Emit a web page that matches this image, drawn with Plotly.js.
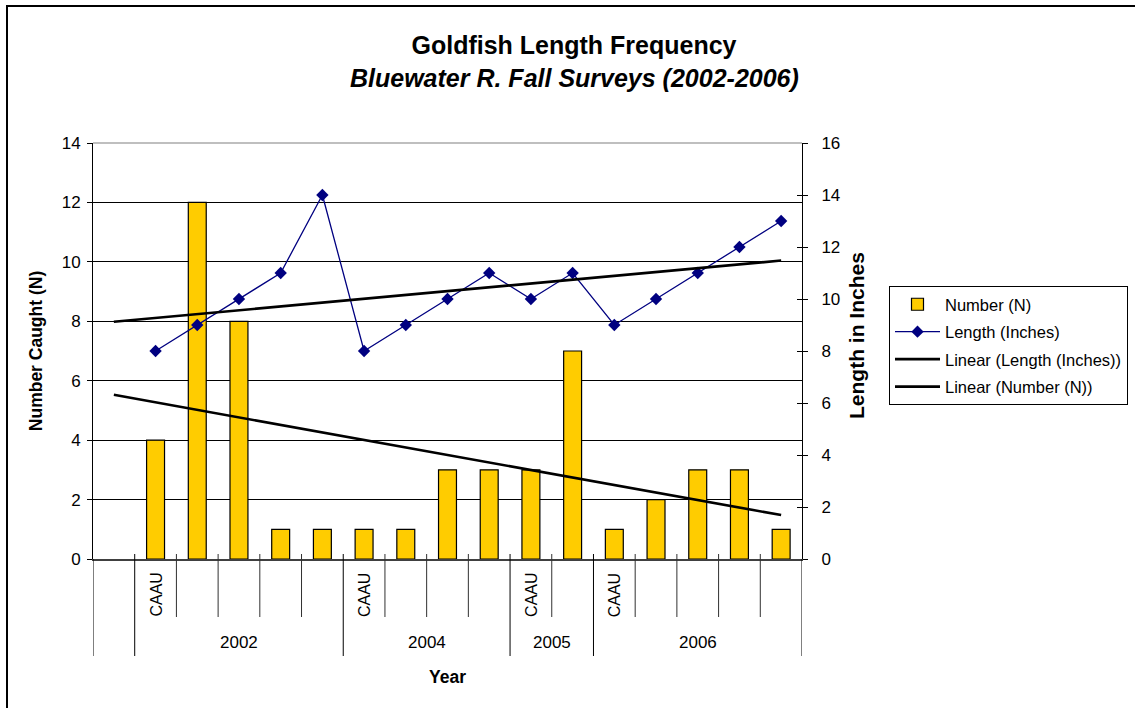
<!DOCTYPE html>
<html>
<head>
<meta charset="utf-8">
<script src="https://cdn.plot.ly/plotly-3.0.1.min.js"></script>
<style>html,body{margin:0;padding:0;background:#fff;}#chart{width:1135px;height:708px;}</style>
</head>
<body>
<div id="chart"></div>
<script>
// ---- data ----
var innerLabels = ['', 'CAAU', '', '', '', '', 'CAAU', '', '', '', 'CAAU', '', 'CAAU', '', '', '', ''];
var groupLabels = ['', '2002', '2004', '2005', '2006'];
var groupSizes  = [1, 5, 4, 2, 5];
var numberCaught = [null, 4, 12, 8, 1, 1, 1, 1, 3, 3, 3, 7, 1, 2, 3, 3, 1];
var lengthInches = [null, 8, 9, 10, 11, 14, 8, 9, 10, 11, 10, 11, 9, 10, 11, 12, 13];
var leftTicks  = [0, 2, 4, 6, 8, 10, 12, 14];
var rightTicks = [0, 2, 4, 6, 8, 10, 12, 14, 16];

// ---- layout helpers ----
var W = 1135, H = 708, L = 93, R = 802, T = 143, B = 559;
function px(xp){ return (xp - L) / (R - L); }
function py(yp){ return (B - yp) / (B - T); }
var FONT = '"Liberation Sans", Arial, sans-serif';

var xIdx = innerLabels.map(function(_, i){ return i + 1; });

// linear trend (least squares on category index, like the spreadsheet trendline)
function trend(vals){
  var xs = [], ys = [];
  vals.forEach(function(v, i){ if (v !== null) { xs.push(i + 1); ys.push(v); } });
  var n = xs.length, mx = 0, my = 0;
  for (var i = 0; i < n; i++){ mx += xs[i]; my += ys[i]; }
  mx /= n; my /= n;
  var sxy = 0, sxx = 0;
  for (var j = 0; j < n; j++){ sxy += (xs[j]-mx)*(ys[j]-my); sxx += (xs[j]-mx)*(xs[j]-mx); }
  var b = sxy / sxx, a = my - b * mx;
  var x0 = 1, x1 = vals.length;
  return { x: [x0, x1], y: [a + b * x0, a + b * x1] };
}
var tLen = trend(lengthInches);
var tNum = trend(numberCaught);

var traces = [
  { type: 'bar', name: 'Number (N)', x: xIdx, y: numberCaught, yaxis: 'y',
    marker: { color: '#FFCC00', line: { color: '#000000', width: 1.2 } },
    legendgroup: 'a', hoverinfo: 'x+y' },
  { type: 'scatter', mode: 'lines+markers', name: 'Length (Inches)', x: xIdx, y: lengthInches, yaxis: 'y2',
    line: { color: '#000080', width: 1.3 }, marker: { symbol: 'diamond', size: 9.5, color: '#000080' },
    connectgaps: false, legendgroup: 'b' },
  { type: 'scatter', mode: 'lines', name: 'Linear (Length (Inches))', x: tLen.x, y: tLen.y, yaxis: 'y2',
    line: { color: '#000000', width: 2.6 }, legendgroup: 'c' },
  { type: 'scatter', mode: 'lines', name: 'Linear (Number (N))', x: tNum.x, y: tNum.y, yaxis: 'y',
    line: { color: '#000000', width: 2.6 }, legendgroup: 'd' },
  { type: 'scatter', mode: 'markers', x: [], y: [], yaxis: 'y3', showlegend: false, hoverinfo: 'skip' }
];

// category / group divider lines and labels
var shapes = [], annotations = [];
var innerTop = py(554), innerBot = py(617), groupBot = py(656);
var groupBounds = [0.5];
var acc = 0.5;
groupSizes.forEach(function(s){ acc += s; groupBounds.push(acc); });
for (var k = 0; k <= innerLabels.length; k++){
  var xb = k + 0.5;
  var isGroup = groupBounds.indexOf(xb) >= 0;
  shapes.push({ type: 'line', xref: 'x', yref: 'paper', x0: xb, x1: xb,
    y0: (xb === 0.5 || xb === innerLabels.length + 0.5 ? 0 : innerTop), y1: isGroup ? groupBot : innerBot,
    line: { color: isGroup ? '#000000' : '#303030', width: 1 }, layer: 'above' });
}
innerLabels.forEach(function(t, i){
  if (!t) return;
  annotations.push({ text: t, xref: 'x', yref: 'paper', x: i + 1, y: py(595), textangle: -90,
    showarrow: false, xanchor: 'center', yanchor: 'middle', font: { family: FONT, size: 16, color: '#000' } });
});
var start = 0.5;
groupLabels.forEach(function(g, i){
  var end = start + groupSizes[i];
  if (g) annotations.push({ text: g, xref: 'x', yref: 'paper', x: (start + end) / 2, y: py(642),
    showarrow: false, xanchor: 'center', yanchor: 'middle', font: { family: FONT, size: 17, color: '#000' } });
  start = end;
});
// subtitle
annotations.push({ text: '<b><i>Bluewater R. Fall Surveys (2002-2006)</i></b>', xref: 'paper', yref: 'paper',
  x: px(574), y: py(78), xanchor: 'center', yanchor: 'middle', showarrow: false,
  font: { family: FONT, size: 25, color: '#000' } });
// right axis title
annotations.push({ text: '<b>Length in Inches</b>', xref: 'paper', yref: 'paper',
  x: px(856), y: py(336), xanchor: 'center', yanchor: 'middle', textangle: -90, showarrow: false,
  font: { family: FONT, size: 21, color: '#000' } });
// top plot border (grey)
shapes.push({ type: 'line', xref: 'paper', yref: 'paper', x0: 0, x1: 1, y0: 1, y1: 1,
  line: { color: '#808080', width: 1.2 }, layer: 'above' });
// outer chart frame (left and top edges visible)
shapes.push({ type: 'line', xref: 'paper', yref: 'paper', x0: px(7), x1: px(7), y0: py(6), y1: py(720),
  line: { color: '#000', width: 2 }, layer: 'above' });
shapes.push({ type: 'line', xref: 'paper', yref: 'paper', x0: px(6), x1: px(1140), y0: py(6), y1: py(6),
  line: { color: '#000', width: 2 }, layer: 'above' });

var layout = {
  width: W, height: H, autosize: false,
  margin: { l: L, r: W - R, t: T, b: H - B, pad: 0, autoexpand: false },
  paper_bgcolor: '#fff', plot_bgcolor: '#fff',
  font: { family: FONT, color: '#000' },
  title: { text: '<b>Goldfish Length Frequency</b>', font: { family: FONT, size: 25, color: '#000' },
    xref: 'container', yref: 'container', x: 574 / W, y: 1 - 45 / H, xanchor: 'center', yanchor: 'middle' },
  bargap: 0.57,
  showlegend: true,
  legend: { x: px(889), y: py(286), xanchor: 'left', yanchor: 'top', bgcolor: '#fff',
    bordercolor: '#000', borderwidth: 1, font: { family: FONT, size: 16.5, color: '#000' },
    tracegroupgap: 3, itemwidth: 45, traceorder: 'grouped' },
  xaxis: { range: [0.5, 17.5], showgrid: false, zeroline: false, showticklabels: false, ticks: '',
    showline: true, linecolor: '#404040', linewidth: 1.5, fixedrange: true,
    title: { text: '<b>Year</b>', font: { family: FONT, size: 17.5, color: '#000' }, standoff: 111 } },
  yaxis: { range: [0, 14], tickvals: leftTicks, ticks: 'outside', ticklen: 5, tickcolor: '#000',
    showline: true, linecolor: '#000', linewidth: 1, showgrid: true, gridcolor: '#000', gridwidth: 1,
    zeroline: false, tickfont: { family: FONT, size: 17, color: '#000' }, ticklabelstandoff: 3,
    title: { text: '<b>Number Caught (N)</b>', font: { family: FONT, size: 17.5, color: '#000' }, standoff: 14 } },
  yaxis2: { overlaying: 'y', side: 'right', range: [0, 16], tickvals: rightTicks, ticks: 'outside', ticklen: 5,
    tickcolor: '#000', showline: true, linecolor: '#000', linewidth: 1, showgrid: false, zeroline: false,
    tickfont: { family: FONT, size: 17, color: '#000' }, ticklabelstandoff: 10 },
  yaxis3: { overlaying: 'y', side: 'right', range: [0, 16], tickvals: rightTicks, ticks: 'inside', ticklen: 5,
    tickcolor: '#000', showticklabels: false, showline: false, showgrid: false, zeroline: false },
  shapes: shapes,
  annotations: annotations
};

Plotly.newPlot('chart', traces, layout, { staticPlot: true, displayModeBar: false });
</script>
</body>
</html>
